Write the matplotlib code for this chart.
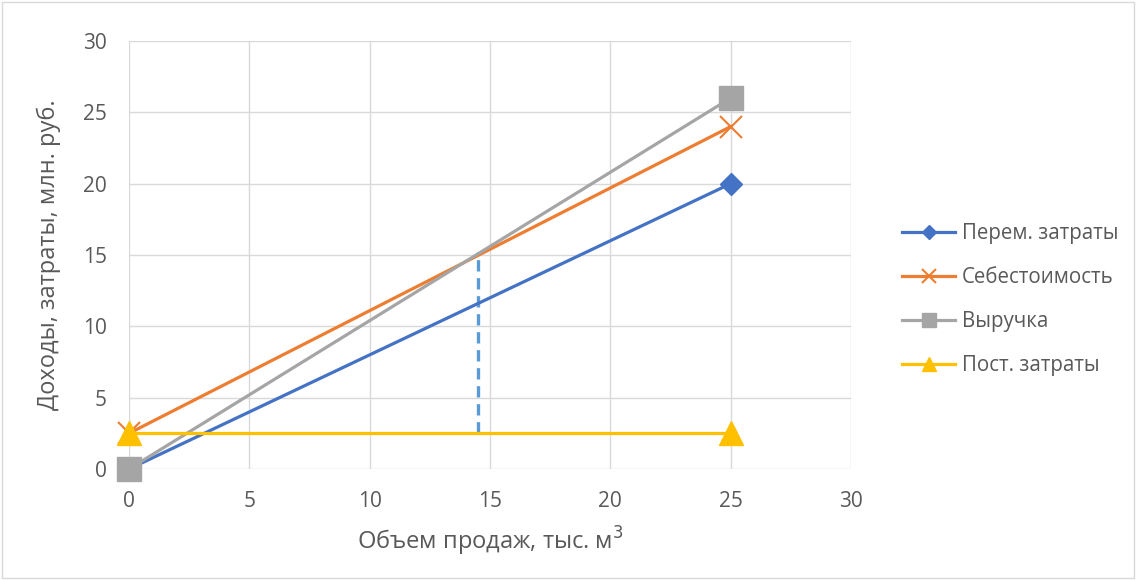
import matplotlib.pyplot as plt
from matplotlib.patches import Rectangle

plt.rcParams['font.family'] = ['Open Sans', 'DejaVu Sans']

# Data
volume = [0, 25]
var_costs = [0, 20]
full_cost = [2.5, 24]
revenue = [0, 26]
fixed_costs = [2.5, 2.5]
breakeven_x = 14.5
breakeven_y = [2.5, 15.2]

text_color = '#595959'
grid_color = '#d9d9d9'

fig = plt.figure(figsize=(11.36, 5.8), dpi=100)
ax = fig.add_axes([129 / 1136, 1 - 469 / 580, (851 - 129) / 1136, (469 - 41) / 580])

ax.plot(volume, var_costs, color='#4472C4', lw=2.3, marker='D', ms=11.5,
        label='Перем. затраты', zorder=3, clip_on=False)
ax.plot(volume, full_cost, color='#ED7D31', lw=2.3, marker='x', ms=16, mew=1.5,
        label='Себестоимость', zorder=3, clip_on=False)
ax.plot(volume, revenue, color='#A5A5A5', lw=2.3, marker='s', ms=17,
        label='Выручка', zorder=3, clip_on=False)
ax.plot(volume, fixed_costs, color='#FFC000', lw=2.3, marker='^', ms=17,
        label='Пост. затраты', zorder=3, clip_on=False)
ax.plot([breakeven_x, breakeven_x], breakeven_y, color='#5B9BD5', lw=2.4,
        ls=(0, (3.4, 2)), zorder=2)

ax.set_xlim(0, 30)
ax.set_ylim(0, 30)
ax.set_xticks(range(0, 31, 5))
ax.set_yticks(range(0, 31, 5))
ax.grid(True, color=grid_color, lw=1)
ax.set_axisbelow(True)
for s in ax.spines.values():
    s.set_visible(False)
ax.tick_params(length=0, labelsize=15, labelcolor=text_color)
ax.tick_params(axis='x', pad=16)
ax.tick_params(axis='y', pad=16)

ax.set_xlabel('Объем продаж, тыс. м$^3$', fontsize=17, color=text_color, labelpad=9)
ax.set_ylabel('Доходы, затраты, млн. руб.', fontsize=17, color=text_color, labelpad=16)

ax.legend(loc='center left', bbox_to_anchor=(1.045, 0.395), frameon=False,
          fontsize=14.8, labelcolor=text_color, handlelength=2.6, handletextpad=0.3,
          labelspacing=1.12, markerscale=0.6)

fig.patches.append(Rectangle((0.002, 0.003), 0.996, 0.994, transform=fig.transFigure,
                             fill=False, edgecolor='#d9d9d9', lw=1))

plt.savefig('out.png', dpi=100)
